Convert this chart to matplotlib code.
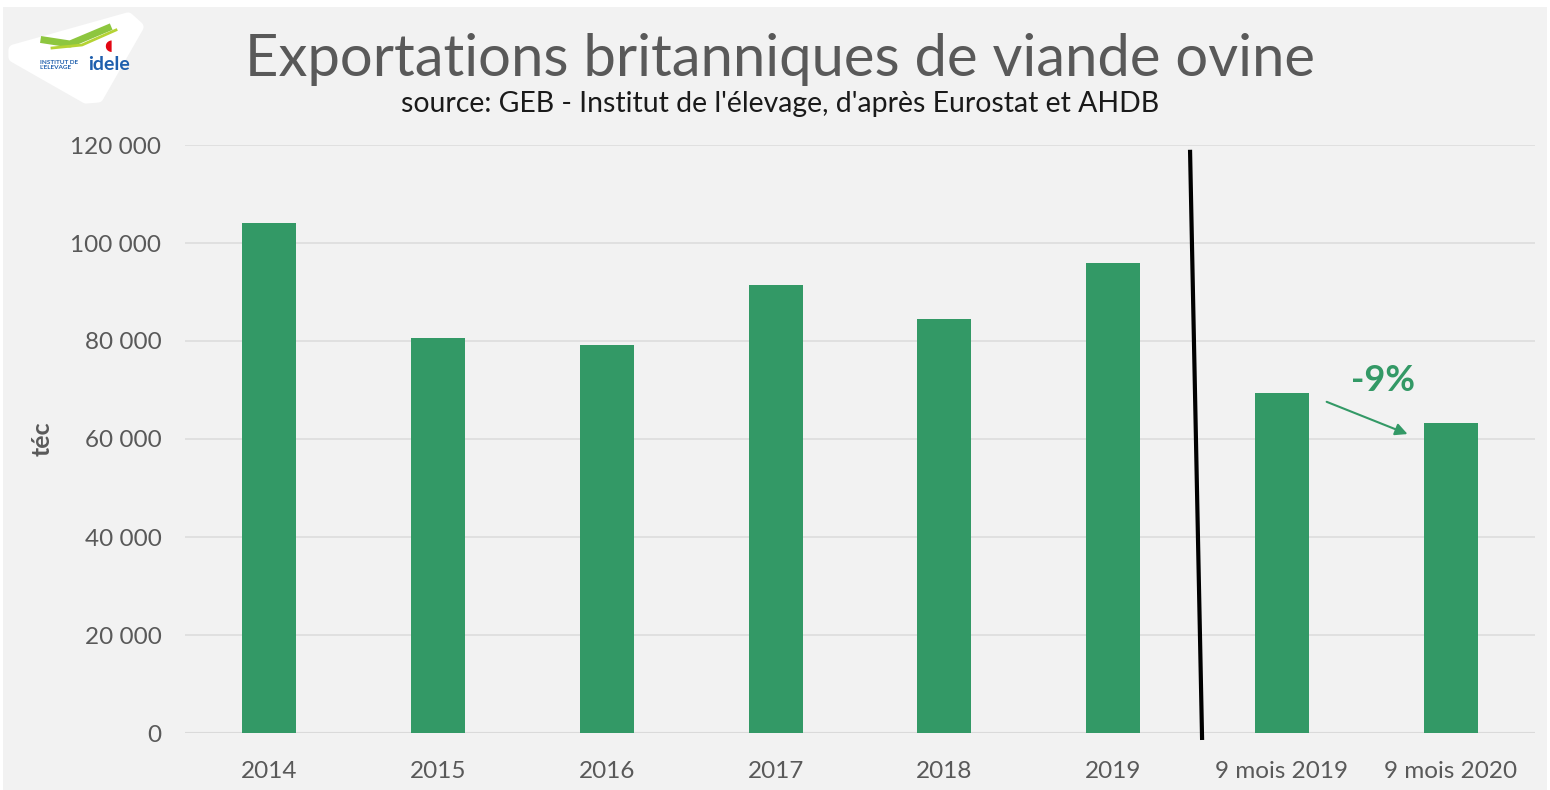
import matplotlib
matplotlib.use("Agg")
import matplotlib.pyplot as plt
from matplotlib.patches import Rectangle, Polygon, FancyArrowPatch
from matplotlib.ticker import FuncFormatter

categories = ["2014", "2015", "2016", "2017", "2018", "2019", "9 mois 2019", "9 mois 2020"]
values = [104000, 80700, 79200, 91400, 84500, 95900, 69400, 63300]
yticks = [0, 20000, 40000, 60000, 80000, 100000, 120000]

BG = "#F2F2F2"
GREEN = "#339966"
GREY = "#595959"
FONT = ["Lato", "DejaVu Sans"]

fig = plt.figure(figsize=(15.5, 7.9), dpi=100, facecolor="white")
fig.patches.append(Rectangle((3 / 1550, 0), 1 - 6 / 1550, 1 - 7 / 790,
                             transform=fig.transFigure, facecolor=BG,
                             edgecolor="none", zorder=-10))

ax = fig.add_axes([185 / 1550, 1 - 733 / 790, 1350 / 1550, 588 / 790])
ax.set_facecolor(BG)
x = list(range(len(categories)))
ax.bar(x, values, width=0.32, color=GREEN, zorder=3)
ax.set_xlim(-0.5, len(categories) - 0.5)
ax.set_ylim(0, 120000)
ax.set_yticks(yticks)
ax.yaxis.set_major_formatter(FuncFormatter(lambda v, p: f"{int(v):,}".replace(",", " ")))
ax.set_xticks(x)
ax.set_xticklabels(categories)
for s in ax.spines.values():
    s.set_visible(False)
ax.grid(axis="y", color="#DDDDDD", linewidth=1.2, zorder=0)
ax.axhline(0, color="#D0D0D0", linewidth=1.5, zorder=1)
ax.tick_params(axis="both", length=0, labelsize=17.5, labelcolor=GREY)
ax.tick_params(axis="y", pad=17)
ax.tick_params(axis="x", pad=20)
for lab in ax.get_xticklabels() + ax.get_yticklabels():
    lab.set_family(FONT)
ax.set_ylabel("téc", fontsize=18, fontweight="bold", color=GREY, family=FONT, labelpad=12)

# separator line
ax.plot([5.456, 5.527], [118600, -1000], color="black", linewidth=3, clip_on=False, zorder=5)

# annotation
ax.add_patch(FancyArrowPatch((6.25, 67800), (6.76, 60800), arrowstyle="-|>", mutation_scale=18,
                             color=GREEN, linewidth=1.5, zorder=5))
ax.text(6.6, 72000, "-9%", color=GREEN, fontsize=26, fontweight="bold", ha="center", va="center",
        family=FONT)

# titles
fig.text(780 / 1550, 1 - 59 / 790, "Exportations britanniques de viande ovine", fontsize=41.8,
         color=GREY, ha="center", va="center", family=FONT)
fig.text(780 / 1550, 1 - 104 / 790, "source: GEB - Institut de l'élevage, d'après Eurostat et AHDB",
         fontsize=20.4, color="#1A1A1A", ha="center", va="center", family=FONT)

# logo approximation
def fx(px):
    return px / 1550

def fy(py):
    return 1 - py / 790

logo = Polygon([(fx(14), fy(50)), (fx(128), fy(18)), (fx(138), fy(27)), (fx(98), fy(97)),
                (fx(86), fy(98)), (fx(14), fy(57))], closed=True, transform=fig.transFigure,
               facecolor="white", edgecolor="white", linewidth=8, joinstyle="round", zorder=1)
fig.patches.append(logo)
fig.lines.append(plt.Line2D([fx(44), fx(70), fx(108)], [fy(40), fy(44), fy(28)],
                            transform=fig.transFigure, color="#8DC63F", linewidth=5, zorder=2))
fig.lines.append(plt.Line2D([fx(52), fx(82), fx(116)], [fy(48), fy(45), fy(30)],
                            transform=fig.transFigure, color="#B5D334", linewidth=2, zorder=2))
fig.text(fx(40), fy(65), "INSTITUT DE\nL'ELEVAGE", fontsize=4.6, color="#1F5FAD",
         fontweight="bold", ha="left", va="center", family=FONT, linespacing=1.0)
fig.text(fx(88), fy(65), "idele", fontsize=14, color="#1F5FAD", fontweight="bold",
         ha="left", va="center", family=FONT)
fig.text(fx(104), fy(46), "◖", fontsize=11, color="#E30613", ha="left", va="center")

fig.savefig("out.png", dpi=100, facecolor=fig.get_facecolor())
